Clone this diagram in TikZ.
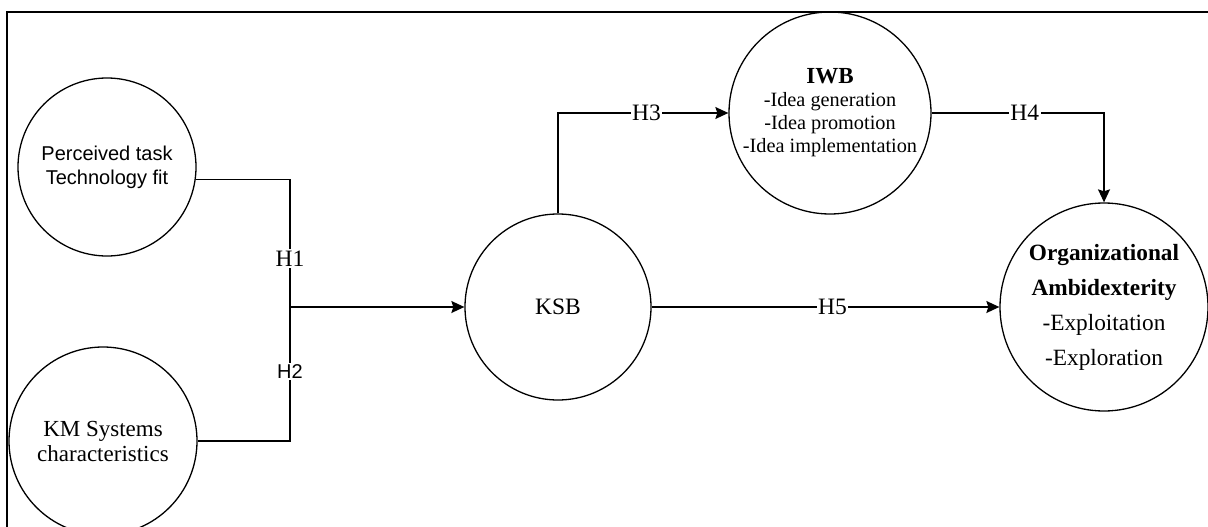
\documentclass[tikz,border=0pt]{standalone}
\usepackage{fontspec}
\setmainfont{Liberation Serif}
\setsansfont{Liberation Sans}
\usetikzlibrary{arrows.meta,positioning,calc}

\begin{document}
\begin{tikzpicture}[x=1pt,y=-1pt,
every node/.style={circle,draw,line width=1.3pt,align=center,inner sep=0pt,
  font=\fontsize{23.5}{26}\selectfont},
hlabel/.style={draw=none,rectangle,fill=white,inner sep=1.5pt},
link/.style={line width=1.3pt,-{Stealth[length=13pt,width=12pt,inset=2pt]}}]
\useasboundingbox (0,0) rectangle (1208,527);
\draw[line width=2pt] (7,530) |- (1210,12);

\node[minimum size=178pt,font=\sffamily\fontsize{20}{24}\selectfont] (perc) at (107,167) {Perceived task\\Technology fit};
\node[minimum size=188pt,font=\fontsize{23}{25}\selectfont] (kms) at (103,441) {KM Systems\\characteristics};
\node[minimum size=186pt] (ksb) at (558,307) {KSB};
\node[minimum size=202pt,font=\fontsize{20.3}{23}\selectfont] (iwb) at (830,113) {{\fontsize{23}{23}\selectfont\bfseries IWB}\\-Idea generation\\-Idea promotion\\-Idea implementation};
\node[minimum size=208pt,font=\fontsize{23.3}{35}\selectfont] (orga) at (1104,307) {\textbf{Organizational}\\\textbf{Ambidexterity}\\-Exploitation\\-Exploration};
\coordinate (join) at (290,307);

\draw[line width=1.3pt] (perc.-8) -| node[hlabel,pos=0.81] {H1} (join);
\draw[line width=1.3pt] (kms.east) -| node[hlabel,pos=0.76,font=\sffamily\fontsize{20}{24}\selectfont] {H2} (join);
\draw[link] (join) -- (ksb.west);
\draw[link] (ksb.north) |- node[hlabel,pos=0.76] {H3} (iwb.west);
\draw[link] (iwb.east) -| node[hlabel,pos=0.27] {H4} (orga.north);
\draw[link] (ksb.east) -- node[hlabel,pos=0.52] {H5} (orga.west);
\end{tikzpicture}
\end{document}
